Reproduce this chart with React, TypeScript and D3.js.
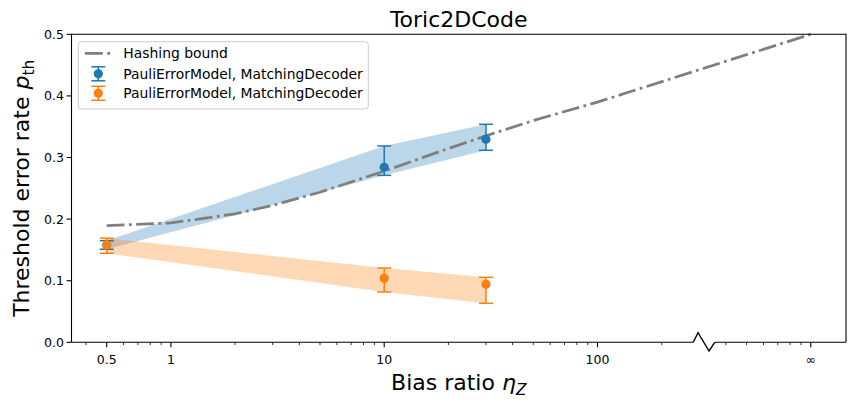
import React from "react";
import * as d3 from "d3";

// Figure geometry
const W = 856;
const H = 405;
const AX = { left: 71.5, right: 846, top: 34.3, bottom: 342.3 };

// Position on the log axis where the "infinite bias" column is drawn
const INF_AT = 1000;

// Hashing bound
const hashEta = [0.5, 1, 2, 3, 5, 10, 20, 30, 50, 100, Infinity];
const hashP = [0.1893, 0.1938, 0.2086, 0.2222, 0.2436, 0.2779, 0.3146, 0.3352, 0.36, 0.39, 0.5];

// Threshold estimates (two runs of PauliErrorModel, MatchingDecoder)
const biasEta = [0.5, 10, 30];
const blueP = [0.158, 0.284, 0.3295];
const blueLo = [0.151, 0.271, 0.3117];
const blueHi = [0.165, 0.3187, 0.3539];
const orangeP = [0.158, 0.1039, 0.0942];
const orangeLo = [0.1445, 0.0817, 0.0633];
const orangeHi = [0.169, 0.1206, 0.1055];

const xTickValues = [0.5, 1, 10, 100, Infinity];
const xTickLabels = ["0.5", "1", "10", "100", "∞"];
const yTickValues = [0, 0.1, 0.2, 0.3, 0.4, 0.5];

const legendLabels = [
  "Hashing bound",
  "PauliErrorModel, MatchingDecoder",
  "PauliErrorModel, MatchingDecoder",
];

const BLUE = "#1f77b4";
const ORANGE = "#ff7f0e";
const GRAY = "#7f7f7f";
const FONT = "DejaVu Sans, sans-serif";

const eta = (v: number) => (v === Infinity ? INF_AT : v);

export default function App() {
  const lo = Math.log10(0.5);
  const hi = Math.log10(INF_AT);
  const pad = (hi - lo) * 0.05;
  const x = d3
    .scaleLog()
    .domain([Math.pow(10, lo - pad), Math.pow(10, hi + pad)])
    .range([AX.left, AX.right]);
  const y = d3.scaleLinear().domain([0, 0.5]).range([AX.bottom, AX.top]);

  const breakX = x(Math.pow(10, 2.5));

  const hashLine = d3
    .line<number>()
    .x((_, i) => x(eta(hashEta[i])))
    .y((d) => y(d))(hashP) as string;

  const band = (los: number[], his: number[]) =>
    d3
      .area<number>()
      .x((_, i) => x(biasEta[i]))
      .y0((_, i) => y(los[i]))
      .y1((_, i) => y(his[i]))(biasEta) as string;

  // Minor ticks on the log axis, skipping majors and the broken segment
  const minor: number[] = [];
  for (let dec = -1; dec <= 3; dec++) {
    for (let m = 1; m <= 9; m++) {
      const v = m * Math.pow(10, dec);
      const px = x(v);
      if (px < AX.left || px > AX.right) continue;
      if (xTickValues.some((t) => eta(t) === v)) continue;
      if (Math.abs(px - breakX) < 12) continue;
      minor.push(v);
    }
  }

  const errorbars = (ps: number[], los: number[], his: number[], color: string) =>
    biasEta.map((e, i) => {
      const cx = x(e);
      return (
        <g key={i}>
          <line x1={cx} x2={cx} y1={y(los[i])} y2={y(his[i])} stroke={color} strokeWidth={1.5} />
          <line x1={cx - 7} x2={cx + 7} y1={y(los[i])} y2={y(los[i])} stroke={color} strokeWidth={1.5} />
          <line x1={cx - 7} x2={cx + 7} y1={y(his[i])} y2={y(his[i])} stroke={color} strokeWidth={1.5} />
          <circle cx={cx} cy={y(ps[i])} r={4.6} fill={color} />
        </g>
      );
    });

  const legendX = 78.3;
  const legendY = 41.7;
  const rowY = [53.3, 73.8, 93.3];

  const legendErr = (cy: number, color: string) => (
    <g>
      <line x1={98.3} x2={98.3} y1={cy - 7} y2={cy + 7} stroke={color} strokeWidth={1.5} />
      <line x1={91.3} x2={105.3} y1={cy - 7} y2={cy - 7} stroke={color} strokeWidth={1.5} />
      <line x1={91.3} x2={105.3} y1={cy + 7} y2={cy + 7} stroke={color} strokeWidth={1.5} />
      <circle cx={98.3} cy={cy} r={4.6} fill={color} />
    </g>
  );

  const zig = `M${breakX - 10.9},${AX.bottom} L${breakX - 6.1},${AX.bottom - 9.6} L${breakX + 4.9},${AX.bottom + 8.7} L${breakX + 10.6},${AX.bottom}`;

  return (
    <svg
      width={W}
      height={H}
      style={{ position: "absolute", left: 0, top: 0, background: "#fff" }}
      fontFamily={FONT}
    >
      <rect width={W} height={H} fill="#fff" />

      {/* shaded uncertainty bands */}
      <path d={band(blueLo, blueHi)} fill={BLUE} fillOpacity={0.3} />
      <path d={band(orangeLo, orangeHi)} fill={ORANGE} fillOpacity={0.3} />

      {/* hashing bound */}
      <path
        d={hashLine}
        fill="none"
        stroke={GRAY}
        strokeWidth={2.78}
        strokeDasharray="17.8,4.45,2.78,4.45"
      />

      {errorbars(blueP, blueLo, blueHi, BLUE)}
      {errorbars(orangeP, orangeLo, orangeHi, ORANGE)}

      {/* spines */}
      <path
        d={`M${AX.left},${AX.bottom} L${AX.left},${AX.top} L${AX.right},${AX.top} L${AX.right},${AX.bottom}`}
        fill="none"
        stroke="#000"
        strokeWidth={1.1}
      />
      <line x1={AX.left} x2={breakX - 10.9} y1={AX.bottom} y2={AX.bottom} stroke="#000" strokeWidth={1.1} />
      <line x1={breakX + 10.6} x2={AX.right} y1={AX.bottom} y2={AX.bottom} stroke="#000" strokeWidth={1.1} />
      <path d={zig} fill="none" stroke="#000" strokeWidth={1.4} />

      {/* x ticks */}
      {minor.map((v, i) => (
        <line key={i} x1={x(v)} x2={x(v)} y1={AX.bottom} y2={AX.bottom + 2.8} stroke="#000" strokeWidth={0.8} />
      ))}
      {xTickValues.map((v, i) => (
        <g key={i}>
          <line x1={x(eta(v))} x2={x(eta(v))} y1={AX.bottom} y2={AX.bottom + 4.9} stroke="#000" strokeWidth={1.1} />
          <text x={x(eta(v))} y={363.5} fontSize={12.5} textAnchor="middle">
            {xTickLabels[i]}
          </text>
        </g>
      ))}

      {/* y ticks */}
      {yTickValues.map((v, i) => (
        <g key={i}>
          <line x1={AX.left - 4.9} x2={AX.left} y1={y(v)} y2={y(v)} stroke="#000" strokeWidth={1.1} />
          <text x={AX.left - 7.5} y={y(v)} dy="0.36em" fontSize={12.5} textAnchor="end">
            {d3.format(".1f")(v)}
          </text>
        </g>
      ))}

      {/* labels */}
      <text x={(AX.left + AX.right) / 2} y={27} fontSize={22} textAnchor="middle">
        Toric2DCode
      </text>
      <text x={(AX.left + AX.right) / 2} y={390} fontSize={22} textAnchor="middle">
        Bias ratio{" "}
        <tspan fontStyle="italic">η</tspan>
        <tspan fontStyle="italic" fontSize={15.4} dy={4.5}>Z</tspan>
      </text>
      <text
        transform={`translate(29,${(AX.top + AX.bottom) / 2}) rotate(-90)`}
        fontSize={22}
        textAnchor="middle"
      >
        Threshold error rate <tspan fontStyle="italic">p</tspan>
        <tspan fontSize={15.4} dy={4.5}>th</tspan>
      </text>

      {/* legend */}
      <rect
        x={legendX}
        y={legendY}
        width={290}
        height={67.3}
        rx={3}
        fill="#fff"
        fillOpacity={0.8}
        stroke="#cccccc"
        strokeWidth={1}
      />
      <line
        x1={85}
        x2={111}
        y1={rowY[0]}
        y2={rowY[0]}
        stroke={GRAY}
        strokeWidth={2.78}
        strokeDasharray="17.8,4.45,2.78,4.45"
      />
      {legendErr(rowY[1], BLUE)}
      {legendErr(rowY[2], ORANGE)}
      {legendLabels.map((t, i) => (
        <text key={i} x={123.3} y={rowY[i]} dy="0.36em" fontSize={13.9}>
          {t}
        </text>
      ))}
    </svg>
  );
}
